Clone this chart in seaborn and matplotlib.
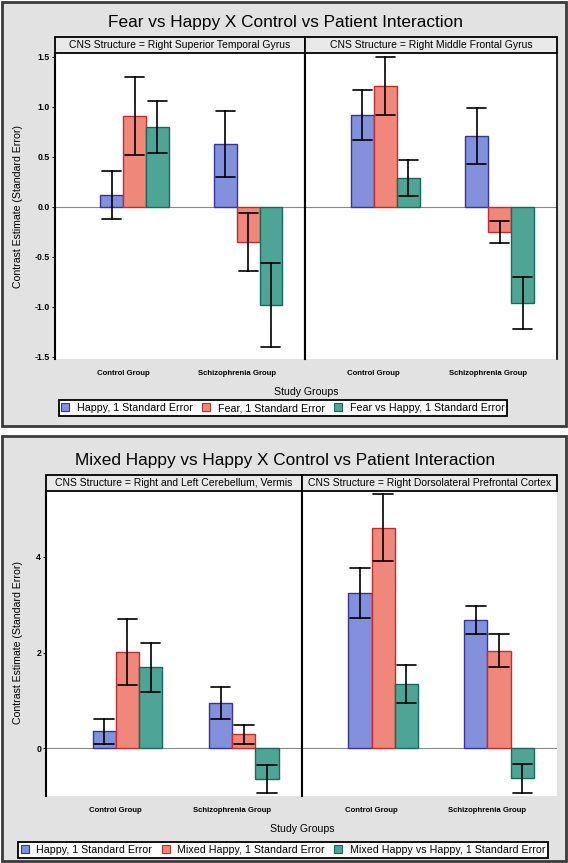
import matplotlib
matplotlib.use("Agg")
import matplotlib.pyplot as plt
from matplotlib.patches import Rectangle, Patch
import seaborn as sns
import pandas as pd
import numpy as np

# ---------------- data ----------------
groups = ["Control Group", "Schizophrenia Group"]

top_series = ["Happy", "Fear", "Fear vs Happy"]
top_legend = ["Happy, 1 Standard Error", "Fear, 1 Standard Error",
              "Fear vs Happy, 1 Standard Error"]
stg_happy_est = [0.12, 0.63]
stg_happy_se = [0.24, 0.33]
stg_fear_est = [0.91, -0.35]
stg_fear_se = [0.39, 0.29]
stg_fvh_est = [0.80, -0.98]
stg_fvh_se = [0.26, 0.42]

mfg_happy_est = [0.92, 0.71]
mfg_happy_se = [0.25, 0.28]
mfg_fear_est = [1.21, -0.25]
mfg_fear_se = [0.29, 0.11]
mfg_fvh_est = [0.29, -0.96]
mfg_fvh_se = [0.18, 0.26]

bot_series = ["Happy", "Mixed Happy", "Mixed Happy vs Happy"]
bot_legend = ["Happy, 1 Standard Error", "Mixed Happy, 1 Standard Error",
              "Mixed Happy vs Happy, 1 Standard Error"]
cer_happy_est = [0.35, 0.94]
cer_happy_se = [0.26, 0.33]
cer_mixed_est = [2.02, 0.29]
cer_mixed_se = [0.69, 0.20]
cer_mvh_est = [1.69, -0.64]
cer_mvh_se = [0.52, 0.29]

dl_happy_est = [3.25, 2.68]
dl_happy_se = [0.52, 0.30]
dl_mixed_est = [4.61, 2.04]
dl_mixed_se = [0.70, 0.34]
dl_mvh_est = [1.34, -0.63]
dl_mvh_se = [0.39, 0.30]

top_title = "Fear vs Happy X Control vs Patient Interaction"
bot_title = "Mixed Happy vs Happy X Control vs Patient Interaction"
strips = ["CNS Structure = Right Superior Temporal Gyrus",
          "CNS Structure = Right Middle Frontal Gyrus",
          "CNS Structure = Right and Left Cerebellum, Vermis",
          "CNS Structure = Right Dorsolateral Prefrontal Cortex"]
top_yticks = [-1.5, -1.0, -0.5, 0.0, 0.5, 1.0, 1.5]
bot_yticks = [0, 2, 4]

fills = ["#8391dc", "#f0877b", "#4fa595"]
edges = ["#34349c", "#c42c2c", "#17695b"]

# ---------------- layout helpers ----------------
W, H = 568, 863
sns.set_theme(style="white")
plt.rcParams["font.family"] = ["Liberation Sans", "DejaVu Sans"]
plt.rcParams["text.color"] = "black"
plt.rcParams["xtick.color"] = "black"
plt.rcParams["ytick.color"] = "black"

fig = plt.figure(figsize=(W / 100, H / 100), dpi=100)
fig.patch.set_facecolor("white")


def fx(px):
    return px / W


def fy(py):
    return 1 - py / H


def frame(est_lists, se_lists, series):
    rows = []
    for s, est, se in zip(series, est_lists, se_lists):
        for g, e, d in zip(groups, est, se):
            rows.append({"group": g, "series": s, "value": e - d})
            rows.append({"group": g, "series": s, "value": e + d})
    return pd.DataFrame(rows)


def box(t, b):
    fig.patches.append(Rectangle((fx(2), fy(b)), fx(564), (b - t) / H,
                                 transform=fig.transFigure, facecolor="#e2e2e2",
                                 edgecolor="#3a3a3a", linewidth=2, zorder=-5))


def strip(l, r, t, b, text):
    fig.patches.append(Rectangle((fx(l), fy(b)), (r - l) / W, (b - t) / H,
                                 transform=fig.transFigure, facecolor="#e9e9e9",
                                 edgecolor="black", linewidth=1.3, zorder=3))
    fig.text(fx((l + r) / 2), fy((t + b) / 2), text, ha="center", va="center",
             fontsize=7.5, zorder=4)


def panel(l, r, t, b, df, series, ylim, yticks, first, right_border):
    ax = fig.add_axes([fx(l), fy(b), (r - l) / W, (b - t) / H])
    ax.set_facecolor("white")
    sns.barplot(data=df, x="group", y="value", hue="series", order=groups,
                hue_order=series, estimator="mean",
                errorbar=lambda v: (v.min(), v.max()),
                palette=fills, saturation=1, width=0.6, capsize=0.5,
                err_kws={"color": "black", "linewidth": 1.2},
                linewidth=1.0, legend=False, ax=ax, zorder=2)
    for cont, ec in zip(ax.containers, edges):
        for p in cont:
            p.set_edgecolor(ec)
    first_bars = ax.containers[0]
    ticks = [p.get_x() + p.get_width() for p in first_bars]
    ax.set_xticks(ticks)
    ax.set_xticklabels(groups, fontsize=5.6, fontweight="bold")
    ax.set_xlim(ticks[0] - 0.6, ticks[1] + 0.6)
    ax.set_ylim(*ylim)
    ax.axhline(0, color="#8a8a8a", linewidth=0.8, zorder=1)
    ax.set_xlabel("")
    ax.set_ylabel("")
    ax.tick_params(axis="x", length=0, pad=8)
    if first:
        ax.set_yticks(yticks)
        ax.set_yticklabels([f"{v:g}" if isinstance(v, int) else f"{v:.1f}" for v in yticks],
                           fontsize=6.3, fontweight="bold")
        ax.tick_params(axis="y", length=2, width=0.8, pad=1.5, left=True)
    else:
        ax.set_yticks([])
    for side in ["top", "bottom"]:
        ax.spines[side].set_visible(False)
    ax.spines["left"].set_visible(True)
    ax.spines["left"].set_color("black")
    ax.spines["left"].set_linewidth(1.5)
    if first:
        ax.spines["right"].set_visible(True)
        ax.spines["right"].set_color("black")
        ax.spines["right"].set_linewidth(1.5)
    else:
        ax.spines["right"].set_visible(right_border)
        ax.spines["right"].set_color("black")
        ax.spines["right"].set_linewidth(1.2)
    return ax


def legend(handles, labels, ycen):
    lg = fig.legend(handles, labels, loc="center", bbox_to_anchor=(fx(283), fy(ycen)),
                    ncol=3, fontsize=7.7, frameon=True, fancybox=False, framealpha=1,
                    edgecolor="black", handlelength=0.75, handleheight=0.75,
                    handletextpad=0.7, columnspacing=0.9, borderpad=0.25,
                    borderaxespad=0)
    lg.get_frame().set_linewidth(1.3)
    return lg


# ---------------- top chart ----------------
box(2, 426)
fig.text(fx(285), fy(22), top_title, ha="center", va="center", fontsize=12.4)
df_stg = frame([stg_happy_est, stg_fear_est, stg_fvh_est],
               [stg_happy_se, stg_fear_se, stg_fvh_se], top_series)
df_mfg = frame([mfg_happy_est, mfg_fear_est, mfg_fvh_est],
               [mfg_happy_se, mfg_fear_se, mfg_fvh_se], top_series)
panel(55, 305, 53, 359, df_stg, top_series, (-1.52, 1.54), top_yticks, True, True)
panel(305, 557, 53, 359, df_mfg, top_series, (-1.52, 1.54), top_yticks, False, True)
strip(55, 305, 37, 53, strips[0])
strip(305, 557, 37, 53, strips[1])
fig.text(fx(18), fy(206), "Contrast Estimate (Standard Error)", rotation=90,
         ha="center", va="center", fontsize=7.6)
fig.text(fx(306), fy(392), "Study Groups", ha="center", va="center", fontsize=7.6)
h_top = [Patch(facecolor=f, edgecolor=e, linewidth=0.8) for f, e in zip(fills, edges)]
legend(h_top, top_legend, 408)

# ---------------- bottom chart ----------------
box(436, 861)
fig.text(fx(285), fy(460), bot_title, ha="center", va="center", fontsize=12.4)
df_cer = frame([cer_happy_est, cer_mixed_est, cer_mvh_est],
               [cer_happy_se, cer_mixed_se, cer_mvh_se], bot_series)
df_dl = frame([dl_happy_est, dl_mixed_est, dl_mvh_est],
              [dl_happy_se, dl_mixed_se, dl_mvh_se], bot_series)
panel(46, 302, 491, 796, df_cer, bot_series, (-1.0, 5.38), bot_yticks, True, False)
panel(302, 557, 491, 796, df_dl, bot_series, (-1.0, 5.38), bot_yticks, False, False)
strip(46, 302, 475, 491, strips[2])
strip(302, 557, 475, 491, strips[3])
fig.text(fx(18), fy(643), "Contrast Estimate (Standard Error)", rotation=90,
         ha="center", va="center", fontsize=7.6)
fig.text(fx(302), fy(829), "Study Groups", ha="center", va="center", fontsize=7.6)
h_bot = [Patch(facecolor=f, edgecolor=e, linewidth=0.8) for f, e in zip(fills, edges)]
legend(h_bot, bot_legend, 850)

fig.savefig("out.png", dpi=100)
